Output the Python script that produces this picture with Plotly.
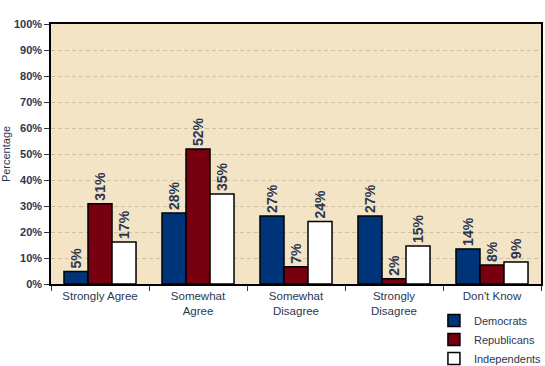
import plotly.graph_objects as go

categories = ["Strongly Agree", "Somewhat<br>Agree", "Somewhat<br>Disagree", "Strongly<br>Disagree", "Don't Know"]
democrats = [4.8, 27.3, 26.2, 26.2, 13.5]
republicans = [30.9, 51.9, 6.6, 2.0, 7.3]
independents = [16.2, 34.6, 24.0, 14.6, 8.5]
dem_labels = ["5%", "28%", "27%", "27%", "14%"]
rep_labels = ["31%", "52%", "7%", "2%", "8%"]
ind_labels = ["17%", "35%", "24%", "15%", "9%"]
y_ticks = [0, 10, 20, 30, 40, 50, 60, 70, 80, 90, 100]

TXT = "#2b3752"
FONT = "Liberation Sans, Arial, sans-serif"

fig = go.Figure()
for name, vals, labels, color in [
    ("Democrats", democrats, dem_labels, "#003478"),
    ("Republicans", republicans, rep_labels, "#770010"),
    ("Independents", independents, ind_labels, "#ffffff"),
]:
    fig.add_trace(go.Bar(
        name=name, x=categories, y=vals, text=labels,
        textposition="outside", textangle=-90, cliponaxis=False,
        textfont=dict(family=FONT, size=14, color=TXT, weight="bold"),
        marker=dict(color=color, line=dict(color="#000000", width=1.5)),
    ))

fig.update_layout(
    width=545, height=366,
    margin=dict(l=51, r=4, t=24, b=82, autoexpand=False),
    paper_bgcolor="#ffffff", plot_bgcolor="#f2e4c4",
    barmode="group", bargap=0.265, bargroupgap=0,
    uniformtext=dict(minsize=14, mode="show"),
    font=dict(family=FONT, size=11, color=TXT),
    showlegend=True,
    legend=dict(x=0.7815, xanchor="left", y=-0.085, yanchor="top",
                font=dict(family=FONT, size=11, color=TXT),
                bgcolor="rgba(0,0,0,0)", tracegroupgap=0, itemwidth=30),
    xaxis=dict(
        type="category", showline=True, linecolor="#000000", linewidth=1.5, mirror=True,
        ticks="outside", tickson="boundaries", ticklen=5, tickcolor=TXT,
        tickfont=dict(family=FONT, size=11.5, color=TXT),
        automargin=False,
    ),
    yaxis=dict(
        range=[0, 100], tickvals=y_ticks, ticktext=[f"{v}%" for v in y_ticks],
        showline=True, linecolor="#000000", linewidth=1.5, mirror=True,
        ticks="outside", ticklen=5, tickcolor=TXT,
        tickfont=dict(family=FONT, size=11, color=TXT, weight="bold"),
        showgrid=True, gridcolor="#cfc2a2", griddash="4px,3px", gridwidth=1,
        zeroline=False, automargin=False,
        title=dict(text="Percentage", font=dict(family=FONT, size=11, color=TXT), standoff=8),
    ),
)

fig.write_html("out.html", config={"displayModeBar": False},
               post_script="document.body.style.margin='0';document.body.style.overflow='hidden';")
